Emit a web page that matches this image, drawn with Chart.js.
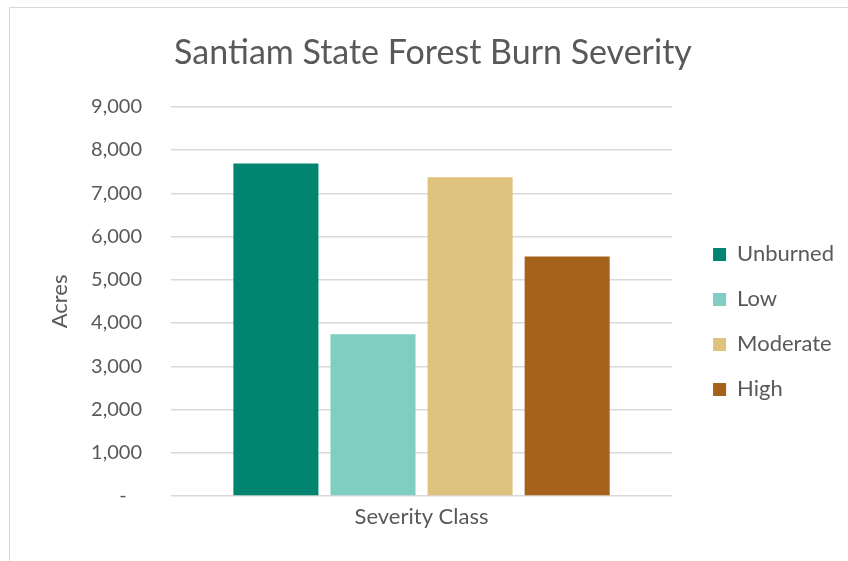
<!DOCTYPE html>
<html>
<head>
<meta charset="utf-8">
<title>Santiam State Forest Burn Severity</title>
<script src="https://cdn.jsdelivr.net/npm/chart.js@4"></script>
<style>
    html, body { margin: 0; padding: 0; background: #ffffff; overflow: hidden; }
    .frame {
        position: absolute; left: 9px; top: 7px; width: 900px; height: 600px;
        border-left: 1.5px solid #d9d9d9; border-top: 1.5px solid #d9d9d9;
    }
    .wrap { position: absolute; left: 0; top: 0; width: 848px; height: 561px; }
</style>
</head>
<body>
<div class="frame"></div>
<div class="wrap"><canvas id="burnChart"></canvas></div>
<script>
// Chart data
const categories = ['Severity Class'];
const seriesNames = ['Unburned', 'Low', 'Moderate', 'High'];
const seriesValues = [[7690], [3740], [7370], [5540]];
const seriesColors = ['#018571', '#80cdc1', '#dfc27d', '#a6611a'];
const yTicks = [0, 1000, 2000, 3000, 4000, 5000, 6000, 7000, 8000, 9000];

const textColor = '#595959';
const gridColor = '#d9d9d9';
const fontFamily = 'Lato, "Open Sans", sans-serif';

const datasets = seriesNames.map((name, i) => ({
    label: name,
    data: seriesValues[i],
    backgroundColor: seriesColors[i],
    borderWidth: 0,
    categoryPercentage: 0.775,
    barPercentage: 0.876
}));

const ctx = document.getElementById('burnChart').getContext('2d');
const burnChart = new Chart(ctx, {
    type: 'bar',
    data: { labels: categories, datasets: datasets },
    options: {
        responsive: true,
        maintainAspectRatio: false,
        animation: false,
        layout: {
            padding: { left: 22, right: 4, top: 8, bottom: 0 }
        },
        scales: {
            x: {
                grid: { display: false },
                border: { display: false },
                ticks: {
                    color: textColor,
                    padding: 0,
                    font: { family: fontFamily, size: 22 }
                },
                afterFit: (scale) => { scale.height = 65; }
            },
            y: {
                min: 0,
                max: 9000,
                afterBuildTicks: (scale) => { scale.ticks = yTicks.map(v => ({ value: v })); },
                grid: { color: gridColor, lineWidth: 1.5, drawTicks: false },
                border: { display: false },
                ticks: {
                    color: textColor,
                    padding: 29,
                    font: { family: fontFamily, size: 20 },
                    callback: (v) => v === 0 ? '-   ' : v.toLocaleString('en-US')
                },
                title: {
                    display: true,
                    text: 'Acres',
                    color: textColor,
                    padding: { top: 25, bottom: 0 },
                    font: { family: fontFamily, size: 22 }
                },
                afterFit: (scale) => { scale.width = 149; }
            },
            // empty space between plot and legend
            gap: {
                axis: 'y',
                type: 'linear',
                position: 'right',
                min: 0,
                max: 1,
                grid: { display: false },
                border: { display: false },
                ticks: { display: false },
                afterFit: (scale) => { scale.width = 18; }
            }
        },
        plugins: {
            title: {
                display: true,
                text: 'Santiam State Forest Burn Severity',
                color: textColor,
                padding: { top: 25, bottom: 33 },
                font: { family: fontFamily, size: 34, weight: 'normal' }
            },
            legend: {
                position: 'right',
                fullSize: false,
                maxWidth: 220,
                title: {
                    display: true,
                    text: '',
                    padding: { top: 31, bottom: 0 },
                    font: { size: 10, lineHeight: 1 }
                },
                labels: {
                    color: textColor,
                    boxWidth: 13,
                    boxHeight: 13,
                    padding: 23,
                    font: { family: fontFamily, size: 22 }
                }
            },
            tooltip: { enabled: false }
        }
    }
});
</script>
</body>
</html>
